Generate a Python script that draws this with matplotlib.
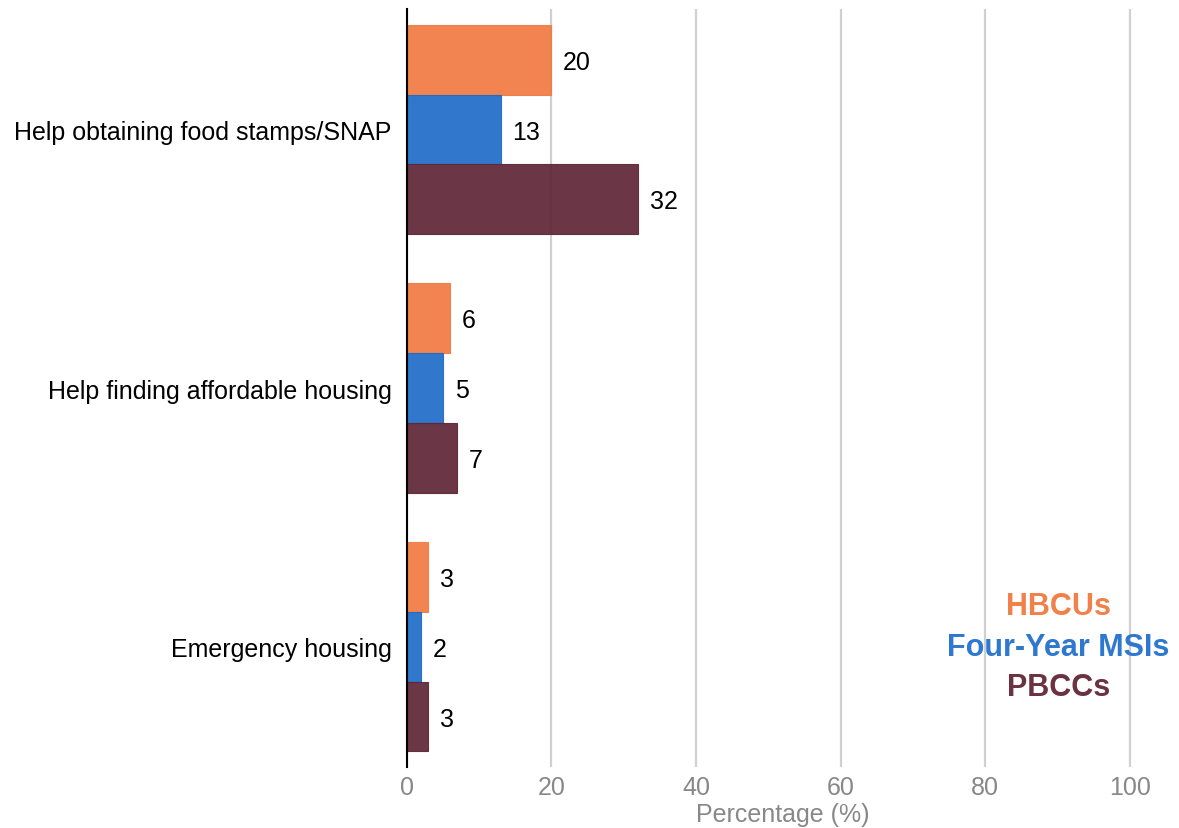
import matplotlib
matplotlib.use('agg')
import matplotlib.pyplot as plt
import numpy as np

plt.rcParams['font.family'] = ['Liberation Sans', 'DejaVu Sans']

categories = ['Help obtaining food stamps/SNAP', 'Help finding affordable housing', 'Emergency housing']
groups = ['HBCUs', 'Four-Year MSIs', 'PBCCs']
hbcu = [20, 6, 3]
msi = [13, 5, 2]
pbcc = [32, 7, 3]
colors = ['#f07a41', '#1f6cc8', '#5e2536']
text_colors = ['#f0814a', '#2e78cf', '#6a3243']

fig = plt.figure(figsize=(11.79, 8.29), dpi=100)
ax = fig.add_axes([0.345, 0.0736, 0.638, 0.914])

y = np.arange(len(categories))
h = 0.27
for i, (vals, c) in enumerate(zip([hbcu, msi, pbcc], colors)):
    pos = y + (i - 1) * h
    ax.barh(pos, vals, height=h, color=c, alpha=0.92, edgecolor=c, linewidth=0.8, zorder=3)
    for p, v in zip(pos, vals):
        ax.annotate(str(v), (v, p), xytext=(8.5, -1.5), textcoords='offset points',
                    ha='left', va='center', fontsize=18, color='black')

ax.set_xlim(0, 104)
ax.set_ylim(2.465, -0.465)
ax.set_xticks([0, 20, 40, 60, 80, 100])
ax.set_yticks(y)
ax.set_yticklabels(categories, fontsize=18)
ax.tick_params(axis='y', length=0, pad=11)
ax.tick_params(axis='x', length=0, pad=6, labelsize=18, labelcolor='#888888')
ax.grid(axis='x', color='#d0d0d0', linewidth=1.6, zorder=0)
for s in ['top', 'right', 'bottom']:
    ax.spines[s].set_visible(False)
ax.spines['left'].set_linewidth(1.5)
ax.spines['left'].set_zorder(4)
ax.set_xlabel('Percentage (%)', fontsize=18, color='#888888', labelpad=2)

# group names in place of a legend box
for k, (g, c) in enumerate(zip(groups, text_colors)):
    ax.text(0.866, 0.212 - k * 0.0535, g, transform=ax.transAxes, ha='center', va='center',
            fontsize=22, fontweight='bold', color=c)

plt.savefig('out.png', dpi=100)
